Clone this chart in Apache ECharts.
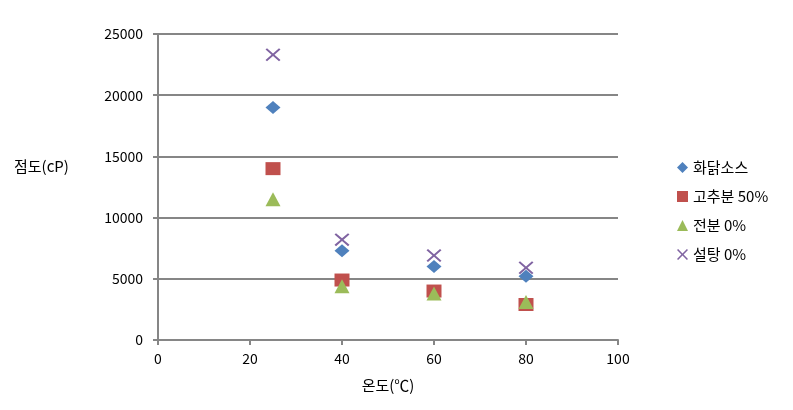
<!DOCTYPE html>
<html><head><meta charset="utf-8">
<script src="https://cdn.jsdelivr.net/npm/echarts@6/dist/echarts.min.js"></script>
<style>html,body{margin:0;padding:0;background:#fff}#c{width:793px;height:410px}</style>
</head><body><div id="c"></div>
<script>
var temps = [25, 40, 60, 80];
var seriesNames = ['화닭소스', '고추분 50%', '전분 0%', '설탕 0%'];
var s1 = [19000, 7300, 6000, 5200];
var s2 = [14000, 4900, 4000, 2900];
var s3 = [11500, 4400, 3800, 3100];
var s4 = [23300, 8200, 6900, 5900];
var xTicks = [0, 20, 40, 60, 80, 100];
var yTicks = [0, 5000, 10000, 15000, 20000, 25000];

var FONT = '"Noto Sans CJK KR", sans-serif';
var colors = ['#4F81BD', '#C0504D', '#9BBB59', '#8064A2'];
var symbols = ['diamond', 'rect', 'triangle',
  'path://M0,1L1,0L5,4L9,0L10,1L6,5L10,9L9,10L5,6L1,10L0,9L4,5Z'];
var sizes = [[15, 13], [15, 13], [15, 14], [15, 13]];
var all = [s1, s2, s3, s4];

function pairs(vals){ return temps.map(function(t,i){ return [t, vals[i]]; }); }

var chart = echarts.init(document.getElementById('c'), null, {renderer:'canvas'});
chart.setOption({
  animation: false,
  textStyle: {fontFamily: FONT},
  grid: {left: 158, right: 175, top: 34, bottom: 70, containLabel: false},
  xAxis: {
    type: 'value', min: xTicks[0], max: xTicks[xTicks.length-1], interval: 20,
    name: '온도(℃)', nameLocation: 'middle', nameGap: 38,
    nameTextStyle: {fontSize: 15, color: '#000', fontFamily: FONT},
    axisLine: {show: true, lineStyle: {color: '#868686', width: 2}},
    axisTick: {show: true, length: 5, lineStyle: {color: '#868686', width: 2}},
    axisLabel: {margin: 12, fontSize: 14, color: '#000', fontFamily: FONT,
      formatter: function(v){ return String(v); }},
    splitLine: {show: false}
  },
  yAxis: {
    type: 'value', min: yTicks[0], max: yTicks[yTicks.length-1], interval: 5000,
    axisLine: {show: true, lineStyle: {color: '#868686', width: 2}},
    axisTick: {show: true, length: 5, lineStyle: {color: '#868686', width: 2}},
    axisLabel: {margin: 15, fontSize: 14, color: '#000', fontFamily: FONT,
      formatter: function(v){ return String(v); }},
    splitLine: {show: true, lineStyle: {color: '#868686', width: 2}}
  },
  legend: {
    orient: 'vertical', left: 672, top: 155, itemGap: 14,
    itemWidth: 11, itemHeight: 11,
    itemStyle: {opacity: 1},
    textStyle: {fontSize: 15, color: '#000', fontFamily: FONT},
    data: seriesNames.map(function(n,i){ return {name: n, icon: symbols[i]}; })
  },
  graphic: [{
    type: 'text', left: 14, top: 159,
    style: {text: '점도(cP)', font: '15px ' + FONT, fill: '#000'}
  }],
  series: seriesNames.map(function(n,i){
    return {
      name: n, type: 'scatter', data: pairs(all[i]),
      symbol: symbols[i], symbolSize: sizes[i],
      itemStyle: {color: colors[i], opacity: 1}
    };
  })
});
</script></body></html>
